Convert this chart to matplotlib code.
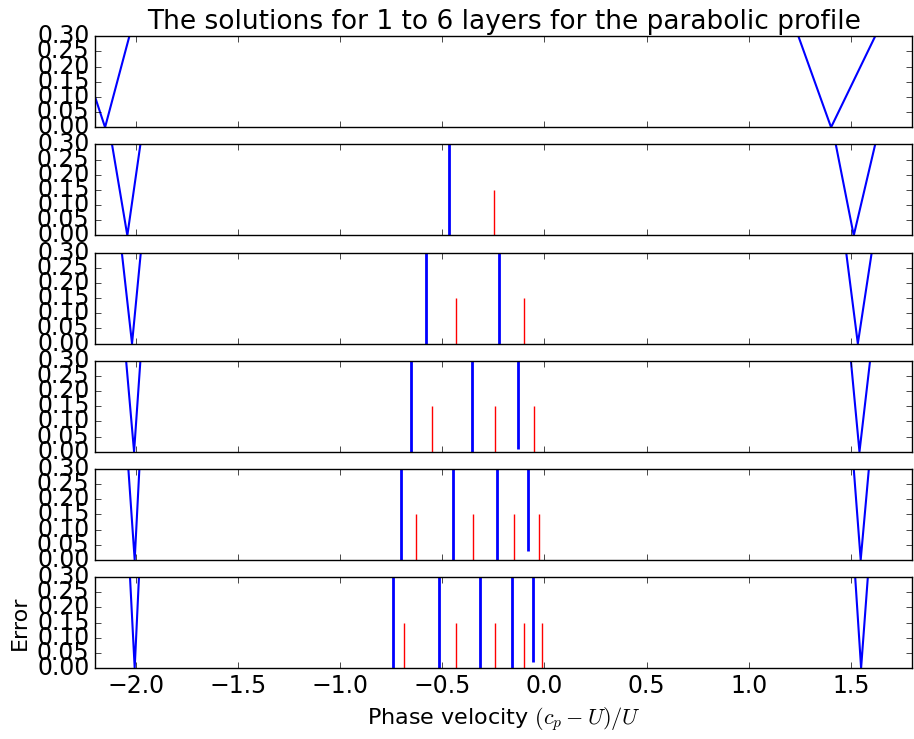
""" Error of the dispersion relation for 1 to 6 layers, parabolic profile. """

import matplotlib
matplotlib.use('Agg')
import matplotlib.pyplot as plt
import numpy as np

# Error curves near the two outer roots, one (x, y) list per layer count
left_x = [
    [-2.200, -2.151, -2.032],
    [-2.117, -2.042, -1.978],
    [-2.069, -2.019, -1.976],
    [-2.048, -2.009, -1.978],
    [-2.037, -2.006, -1.983],
    [-2.029, -2.006, -1.985],
]
left_y = [
    [0.10, 0.00, 0.30],
    [0.30, 0.00, 0.30],
    [0.30, 0.00, 0.30],
    [0.30, 0.00, 0.30],
    [0.30, 0.00, 0.30],
    [0.30, 0.00, 0.30],
]
right_x = [
    [1.243, 1.403, 1.619],
    [1.426, 1.514, 1.619],
    [1.477, 1.534, 1.602],
    [1.500, 1.542, 1.594],
    [1.514, 1.548, 1.588],
    [1.521, 1.550, 1.583],
]
right_y = [0.30, 0.00, 0.30]

# Inner solutions (blue) and layer velocities (red)
solutions = [
    [],
    [-0.465],
    [-0.581, -0.225],
    [-0.653, -0.354, -0.128],
    [-0.703, -0.446, -0.232, -0.082],
    [-0.740, -0.516, -0.317, -0.160, -0.056],
]
solution_bottoms = [
    [],
    [0.0],
    [0.0, 0.0],
    [0.0, 0.0, 0.008],
    [0.0, 0.0, 0.0, 0.030],
    [0.0, 0.0, 0.0, 0.0, 0.019],
]
layers = [
    [],
    [-0.246],
    [-0.434, -0.098],
    [-0.553, -0.242, -0.052],
    [-0.630, -0.351, -0.150, -0.026],
    [-0.689, -0.434, -0.242, -0.098, -0.013],
]

yticks = [0.00, 0.05, 0.10, 0.15, 0.20, 0.25, 0.30]

plt.style.use('classic')
plt.rcParams['font.size'] = 16
plt.rcParams['xtick.labelsize'] = 17
plt.rcParams['ytick.labelsize'] = 17

fig, axes = plt.subplots(6, 1, sharex=True, figsize=(9.14, 7.39), dpi=100)
fig.patch.set_facecolor('white')
fig.subplots_adjust(left=0.104, right=0.998, top=0.951, bottom=0.096, hspace=0.187)

for i, ax in enumerate(axes):
    ax.plot(left_x[i], left_y[i], color='b', lw=1.5)
    ax.plot(right_x[i], right_y, color='b', lw=1.5)
    if solutions[i]:
        ax.vlines(solutions[i], solution_bottoms[i], 0.30, colors='b', lw=2)
        ax.vlines(layers[i], 0.0, 0.15, colors='r', lw=1)
    ax.set_xlim(-2.2, 1.8)
    ax.set_ylim(0, 0.30)
    ax.set_yticks(yticks)
    ax.set_yticklabels(['%.2f' % t for t in yticks])

axes[0].set_title("The solutions for 1 to 6 layers for the parabolic profile", fontsize=19)
axes[-1].set_xticks(np.arange(-2.0, 1.6, 0.5))
axes[-1].set_ylabel("Error")
axes[-1].set_xlabel("Phase velocity $(c_p - U)/U$")

fig.savefig('out.png', dpi=100, facecolor='white')
